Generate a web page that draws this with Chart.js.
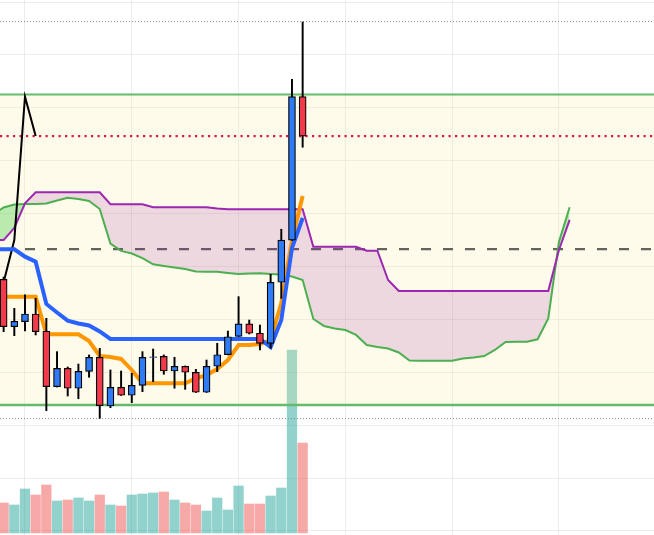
<!DOCTYPE html>
<html><head><meta charset="utf-8">
<script src="https://cdn.jsdelivr.net/npm/chart.js@4.4.1/dist/chart.umd.min.js"></script>
<style>html,body{margin:0;padding:0;background:#fff;overflow:hidden}canvas{display:block}</style>
</head><body>
<canvas id="c" width="654" height="535" style="width:654px;height:535px"></canvas>
<script>
// ---- candles (index 0..28) ----
const opens  = [6.379,5.931,5.978,6.051,5.888,5.364,5.538,5.349,5.509,5.642,5.181,5.358,5.283,5.377,5.640,5.651,5.512,5.557,5.500,5.311,5.557,5.666,5.840,5.957,5.869,5.774,6.351,6.750,8.105];
const highs  = [6.400,6.105,6.231,6.199,6.010,5.695,5.550,5.578,5.664,5.727,5.522,5.512,5.491,5.695,5.720,5.664,5.642,5.560,5.528,5.616,5.774,5.890,6.215,5.994,5.947,6.426,6.852,8.269,8.811];
const lows   = [5.884,5.846,5.890,5.853,5.137,5.361,5.276,5.250,5.453,5.065,5.165,5.281,5.213,5.317,5.411,5.481,5.349,5.339,5.309,5.309,5.506,5.664,5.838,5.862,5.711,5.727,6.199,6.746,7.627];
const closes = [5.931,5.982,6.051,5.884,5.364,5.538,5.349,5.509,5.642,5.184,5.358,5.283,5.377,5.642,5.647,5.512,5.557,5.500,5.311,5.557,5.666,5.836,5.957,5.869,5.774,6.351,6.750,8.105,7.733];
const volumes = [3000,2800,4400,3800,4800,3200,3300,3500,3200,3800,2800,2700,3800,3900,4000,4100,3300,3000,2800,2200,3500,2300,4700,2900,2900,3700,4500,18300,9000];

// ---- ichimoku (first value belongs to the bar just before the visible range, index -1) ----
const firstIndex = -1;
const tenkan = [6.215,6.215,6.215,6.215,6.215,5.859,5.859,5.859,5.859,5.796,5.654,5.645,5.626,5.522,5.396,5.396,5.396,5.396,5.396,5.443,5.474,5.531,5.616,5.758,5.758,5.767,5.805,6.155,6.750,7.166];
const kijun  = [6.663,6.663,6.663,6.593,6.545,6.146,6.065,5.988,5.961,5.942,5.886,5.815,5.815,5.815,5.815,5.815,5.815,5.815,5.815,5.815,5.815,5.815,5.815,5.815,5.815,5.815,5.739,5.994,6.675,6.958];
const senkouA = [6.990,7.058,7.086,7.091,7.091,7.095,7.124,7.150,7.138,7.119,7.043,
  6.717,6.647,6.623,6.580,6.521,6.505,6.491,6.476,6.453,6.451,
  6.451,6.439,6.429,6.434,6.436,6.429,6.424,6.405,6.372,6.004,
  5.938,5.914,5.900,5.853,5.758,5.739,5.725,5.687,5.612,5.610,
  5.610,5.610,5.610,5.630,5.640,5.654,5.711,5.786,5.789,5.789,
  5.812,6.010,6.734,7.060];
const senkouB = [6.750,6.750,6.864,7.097,7.201,7.201,7.201,7.201,7.201,7.201,7.201,
  7.088,7.088,7.088,7.088,7.060,7.060,7.060,7.060,7.060,7.060,
  7.048,7.041,7.041,7.041,7.041,7.041,7.041,7.041,7.041,6.687,
  6.687,6.687,6.687,6.687,6.649,6.649,6.372,6.268,6.268,6.268,
  6.268,6.268,6.268,6.268,6.268,6.268,6.268,6.268,6.268,6.268,
  6.268,6.268,6.656,6.940];
const chikouShift = 25;

// ---- horizontal levels ----
const highLevel = 8.815;
const resistance = 8.126;
const lastPrice = 7.733;
const midLevel = 6.665;
const support = 5.191;
const lowLevel = 5.062;

// ---- axis ticks (grid) ----
const xGridTicks = [2,12,22,32,42,52];
const yGridTicks = [4.0,4.5,5.0,5.5,6.0,6.5,7.0,7.5,8.0,8.5,9.0];

const X_MIN = -0.34, X_MAX = 60.9;
const UP = '#2f7bf6', DOWN = '#f23a4a';

const hline = (v) => [{x:X_MIN,y:v},{x:X_MAX,y:v}];
const series = (arr) => arr.map((v,k)=>({x:k+firstIndex,y:v}));
const isUp = (i) => closes[i] >= opens[i];

const datasets = [
  { type:'bar', label:'vol', yAxisID:'yVol', order:21, grouped:false, barThickness:9.6,
    data: volumes.map((v,i)=>({x:i,y:v})),
    backgroundColor: volumes.map((v,i)=> isUp(i) ? 'rgba(38,166,154,0.5)' : 'rgba(239,83,80,0.5)') },
  { type:'line', label:'res', order:20, data: hline(resistance), borderColor:'#66bb6a', borderWidth:2,
    pointRadius:0, fill:{target:'+1'}, backgroundColor:'rgba(250,235,150,0.2)' },
  { type:'line', label:'sup', order:19, data: hline(support), borderColor:'#66bb6a', borderWidth:2.5,
    pointRadius:0, fill:false },
  { type:'line', label:'hi', order:15, data: hline(highLevel), borderColor:'#888', borderWidth:1,
    borderDash:[1,2], pointRadius:0, fill:false },
  { type:'line', label:'lo', order:15, data: hline(lowLevel), borderColor:'#888', borderWidth:1,
    borderDash:[1,2], pointRadius:0, fill:false },
  { type:'line', label:'mid', order:15, data: hline(midLevel), borderColor:'rgba(70,70,70,0.85)', borderWidth:2.2,
    borderDash:[10,12], borderDashOffset:19, pointRadius:0, fill:false },
  { type:'line', label:'last', order:15, data: hline(lastPrice), borderColor:'#dc1450', borderWidth:2.2,
    borderDash:[2.2,4.3], pointRadius:0, fill:false },
  { type:'line', label:'spanA', order:12, data: series(senkouA), borderColor:'#4caf50', borderWidth:2,
    pointRadius:0, tension:0,
    fill:{target:'+1', above:'rgba(76,205,80,0.38)', below:'rgba(156,39,176,0.17)'} },
  { type:'line', label:'spanB', order:11, data: series(senkouB), borderColor:'#9c27b0', borderWidth:2,
    pointRadius:0, tension:0, fill:false },
  { type:'line', label:'chikou', order:8, data: closes.map((v,i)=>({x:i-chikouShift,y:v})), borderColor:'#000', borderWidth:2,
    pointRadius:0, tension:0, fill:false },
  { type:'line', label:'tenkan', order:6, data: series(tenkan), borderColor:'#ff9800', borderWidth:4,
    pointRadius:0, tension:0, fill:false },
  { type:'line', label:'kijun', order:5, data: series(kijun), borderColor:'#2962ff', borderWidth:4,
    pointRadius:0, tension:0, fill:false },
  { type:'bar', label:'wick', order:2, grouped:false, barThickness:1.3,
    data: highs.map((h,i)=>({x:i,y:[lows[i],h]})), backgroundColor:'#000' },
  { type:'bar', label:'body', order:1, grouped:false, barThickness:7,
    data: opens.map((o,i)=>({x:i,y:[o,closes[i]]})),
    backgroundColor: opens.map((o,i)=> isUp(i) ? UP : DOWN),
    borderColor:'#000', borderWidth:1.2, borderSkipped:false }
];

const gridColor = 'rgba(0,0,0,0.07)';
new Chart(document.getElementById('c'), {
  type:'line',
  data:{ datasets },
  options:{
    responsive:false, animation:false, devicePixelRatio:1,
    layout:{ padding:0 },
    plugins:{ legend:{display:false}, tooltip:{enabled:false} },
    scales:{
      x:{ type:'linear', min:X_MIN, max:X_MAX, offset:false,
          grid:{ color:gridColor, drawTicks:false, tickLength:0, offset:false },
          border:{ display:false }, ticks:{ display:false },
          afterBuildTicks:(s)=>{ s.ticks = xGridTicks.map(v=>({value:v})); } },
      y:{ type:'linear', position:'left', min:3.962, max:9.019,
          grid:{ color:gridColor, drawTicks:false, tickLength:0 },
          border:{ display:false }, ticks:{ display:false },
          afterBuildTicks:(s)=>{ s.ticks = yGridTicks.map(v=>({value:v})); } },
      yVol:{ type:'linear', position:'right', min:-200, max:53300, display:false,
          grid:{ display:false } }
    }
  }
});
</script>
</body></html>
